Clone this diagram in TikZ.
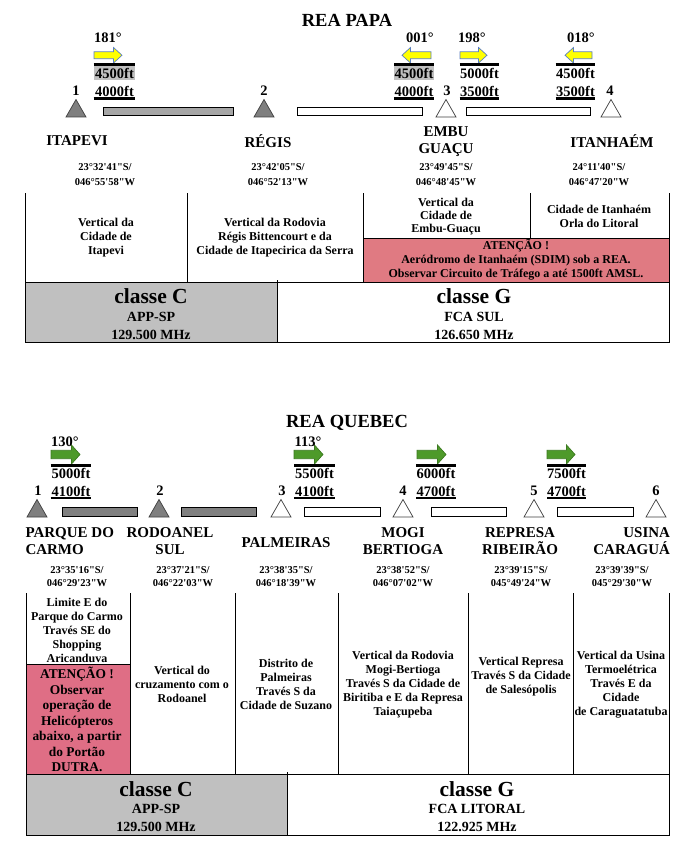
\documentclass[tikz,border=0pt]{standalone}
\usepackage{fontspec}
\setmainfont{Liberation Serif}
\newcommand\mysq{\textquotesingle}
\newcommand\mydq{\textquotedbl}
\definecolor{yelfill}{HTML}{FFFF00}
\definecolor{yelline}{HTML}{5B7FBF}
\definecolor{grnfill}{HTML}{4E9A2A}
\definecolor{grnline}{HTML}{3B7A1F}
\definecolor{tridark}{HTML}{7F7F7F}
\definecolor{triline}{HTML}{404040}
\definecolor{barlight}{HTML}{A6A6A6}
\definecolor{bardark}{HTML}{808080}
\definecolor{clsgray}{HTML}{C0C0C0}
\definecolor{redpapa}{HTML}{E07A82}
\definecolor{redqueb}{HTML}{DF6E85}
% right arrow: style, x0, x1, ytop, ybot
\newcommand\myRArrow[5]{\filldraw[#1] (#2,{#4+0.28*(#5-#4)}) -- ({#3-8.5},{#4+0.28*(#5-#4)}) -- ({#3-8.5},#4) -- (#3,{(#4+#5)/2}) -- ({#3-8.5},#5) -- ({#3-8.5},{#5-0.28*(#5-#4)}) -- (#2,{#5-0.28*(#5-#4)}) -- cycle;}
% left arrow: style, x0 (tip), x1, ytop, ybot
\newcommand\myLArrow[5]{\filldraw[#1] (#3,{#4+0.28*(#5-#4)}) -- ({#2+8.5},{#4+0.28*(#5-#4)}) -- ({#2+8.5},#4) -- (#2,{(#4+#5)/2}) -- ({#2+8.5},#5) -- ({#2+8.5},{#5-0.28*(#5-#4)}) -- (#3,{#5-0.28*(#5-#4)}) -- cycle;}
% triangle: style, xcenter, ytop
\newcommand\myTri[3]{\filldraw[#1] ({#2-10},{#3+17.5}) -- ({#2+10},{#3+17.5}) -- (#2,#3) -- cycle;}
\begin{document}
\begin{tikzpicture}[x=1pt,y=-1pt,
  every node/.style={inner sep=0pt, outer sep=0pt, text=black},
  titletxt/.style={font=\fontsize{18.5}{20}\selectfont\bfseries},
  degtxt/.style={font=\fontsize{14.5}{16}\selectfont\bfseries},
  fttxt/.style={font=\fontsize{14.5}{16}\selectfont\bfseries},
  numtxt/.style={font=\fontsize{14.5}{16}\selectfont\bfseries},
  nametxt/.style={font=\fontsize{15}{17}\selectfont\bfseries, align=center},
  coordtxt/.style={font=\fontsize{10.5}{15}\selectfont\bfseries, align=center},
  celltxt/.style={font=\fontsize{12}{14}\selectfont\bfseries, align=center},
  redtxt/.style={font=\fontsize{13.4}{15.5}\selectfont\bfseries, align=center},
  clsbig/.style={font=\fontsize{21.5}{24}\selectfont\bfseries},
  clssmall/.style={font=\fontsize{14}{16}\selectfont\bfseries},
  ftline/.style={line width=2.2pt},
  tbline/.style={line width=1pt},
  yelarrow/.style={fill=yelfill, draw=yelline, line width=0.7pt},
  grnarrow/.style={fill=grnfill, draw=grnline, line width=0.7pt},
  darktri/.style={fill=tridark, draw=triline, line width=0.7pt},
  whitetri/.style={fill=white, draw=triline, line width=0.7pt},
  lightbar/.style={fill=barlight, draw=black, line width=0.8pt},
  darkbar/.style={fill=bardark, draw=black, line width=0.8pt},
  whitebar/.style={fill=white, draw=black, line width=0.8pt}]
\path[use as bounding box] (0,0) rectangle (682,853);
\fill[white] (0,0) rectangle (682,853);

%================ REA PAPA =================
\node[titletxt] (t1) at (347,20) {REA PAPA};

% highlights
\fill[clsgray] (93.5,66.5) rectangle (135,80.5);
\fill[clsgray] (394,66.5) rectangle (434,80.5);

% arrows
\myRArrow{yelarrow}{94}{122}{47.5}{63}
\myLArrow{yelarrow}{402}{431}{47.5}{63}
\myRArrow{yelarrow}{460}{487}{47.5}{63}
\myLArrow{yelarrow}{565}{592}{47.5}{63}

% degree labels
\node[degtxt] (pd1) at (108,38) {181°};
\node[degtxt] (pd2) at (420,38) {001°};
\node[degtxt] (pd3) at (472,38) {198°};
\node[degtxt] (pd4) at (581,38) {018°};

% ft lines
\draw[ftline] (93.5,64.5) -- (135,64.5);
\draw[ftline] (93.5,98.5) -- (135,98.5);
\draw[ftline] (394,64.5) -- (434,64.5);
\draw[ftline] (394,98.5) -- (434,98.5);
\draw[ftline] (459.5,64.5) -- (499,64.5);
\draw[ftline] (459.5,98.5) -- (499,98.5);
\draw[ftline] (555.5,64.5) -- (595,64.5);
\draw[ftline] (555.5,98.5) -- (595,98.5);

% ft texts
\node[fttxt] (pu1) at (114.5,73.5) {4500ft};
\node[fttxt] (pl1) at (114.5,91) {4000ft};
\node[fttxt] (pu2) at (414,73.5) {4500ft};
\node[fttxt] (pl2) at (414,91) {4000ft};
\node[fttxt] (pu3) at (479.5,73.5) {5000ft};
\node[fttxt] (pl3) at (479.5,91) {3500ft};
\node[fttxt] (pu4) at (575.5,73.5) {4500ft};
\node[fttxt] (pl4) at (575.5,91) {3500ft};

% numbers
\node[numtxt] (pn1) at (76,91) {1};
\node[numtxt] (pn2) at (264,91) {2};
\node[numtxt] (pn3) at (447,91) {3};
\node[numtxt] (pn4) at (610,91) {4};

% triangles and bars
\myTri{darktri}{76}{99.5}
\myTri{darktri}{264}{99.5}
\myTri{whitetri}{446}{99.5}
\myTri{whitetri}{611}{99.5}
\draw[lightbar] (103,107) rectangle (233,115.5);
\draw[whitebar] (297,107) rectangle (422,115.5);
\draw[whitebar] (466,107) rectangle (590,115.5);

% names
\node[nametxt] (pm1) at (77,141) {ITAPEVI};
\node[nametxt] (pm2) at (268,141) {RÉGIS};
\node[nametxt] (pm3) at (446,141.5) {EMBU\\GUAÇU};
\node[nametxt] (pm4) at (612,141) {ITANHAÉM};

% coordinates
\node[coordtxt] (pc1) at (105,175) {23°32\mysq41\mydq S/\\046°55\mysq58\mydq W};
\node[coordtxt] (pc2) at (278,175) {23°42\mysq05\mydq S/\\046°52\mysq13\mydq W};
\node[coordtxt] (pc3) at (446,175) {23°49\mysq45\mydq S/\\046°48\mysq45\mydq W};
\node[coordtxt] (pc4) at (599,175) {24°11\mysq40\mydq S/\\046°47\mysq20\mydq W};

% table
\fill[redpapa] (363,238) rectangle (669,282);
\draw[tbline] (25,193) -- (25,282);
\draw[tbline] (187,193) -- (187,282);
\draw[tbline] (363,193) -- (363,282);
\draw[tbline] (530,193) -- (530,238);
\draw[tbline] (669,193) -- (669,282);
\draw[tbline] (363,238) -- (669,238);

\node[celltxt] (pt1) at (106,238) {Vertical da\\Cidade de\\Itapevi};
\node[celltxt] (pt2) at (275,238) {Vertical da Rodovia\\Régis Bittencourt e da\\Cidade de Itapecirica da Serra};
\node[celltxt, font=\fontsize{12}{13}\selectfont\bfseries] (pt3) at (446,216.5) {Vertical da\\Cidade de\\Embu-Guaçu};
\node[celltxt] (pt4) at (599,216.5) {Cidade de Itanhaém\\Orla do Litoral};
\node[celltxt] (pr1) at (516,260) {ATENÇÃO !\\Aeródromo de Itanhaém (SDIM) sob a REA.\\Observar Circuito de Tráfego a até 1500ft AMSL.};

% classes
\fill[clsgray] (25,282) rectangle (277,342);
\draw[tbline] (25,282) rectangle (669,342);
\draw[tbline] (277,280) -- (277,342);
\node[clsbig] (pk1) at (151,296) {classe C};
\node[clssmall] (pk2) at (151,317) {APP-SP};
\node[clssmall] (pk3) at (151,335) {129.500 MHz};
\node[clsbig] (pk4) at (474,296) {classe G};
\node[clssmall] (pk5) at (474,317) {FCA SUL};
\node[clssmall] (pk6) at (474,335) {126.650 MHz};

%================ REA QUEBEC =================
\node[titletxt] (t2) at (347,423) {REA QUEBEC};

\myRArrow{grnarrow}{51}{80}{445}{464}
\myRArrow{grnarrow}{294}{323}{445}{464}
\myRArrow{grnarrow}{417}{446}{445}{464}
\myRArrow{grnarrow}{547}{575}{445}{464}

\node[degtxt] (qd1) at (65,442) {130°};
\node[degtxt] (qd2) at (308,442) {113°};

\draw[ftline] (50.5,465.5) -- (91,465.5);
\draw[ftline] (50.5,498) -- (91,498);
\draw[ftline] (294,465.5) -- (335,465.5);
\draw[ftline] (294,498) -- (335,498);
\draw[ftline] (416,465.5) -- (456,465.5);
\draw[ftline] (416,498) -- (456,498);
\draw[ftline] (547,465.5) -- (586,465.5);
\draw[ftline] (547,498) -- (586,498);

\node[fttxt] (qu1) at (71,473.5) {5000ft};
\node[fttxt] (ql1) at (71,491) {4100ft};
\node[fttxt] (qu2) at (314.5,473.5) {5500ft};
\node[fttxt] (ql2) at (314.5,491) {4100ft};
\node[fttxt] (qu3) at (436,473.5) {6000ft};
\node[fttxt] (ql3) at (436,491) {4700ft};
\node[fttxt] (qu4) at (566.5,473.5) {7500ft};
\node[fttxt] (ql4) at (566.5,491) {4700ft};

\node[numtxt] (qn1) at (38,491) {1};
\node[numtxt] (qn2) at (160,491) {2};
\node[numtxt] (qn3) at (282,491) {3};
\node[numtxt] (qn4) at (403,491) {4};
\node[numtxt] (qn5) at (534,491) {5};
\node[numtxt] (qn6) at (656,491) {6};

\myTri{darktri}{37}{499.5}
\myTri{darktri}{159}{499.5}
\myTri{whitetri}{281}{499.5}
\myTri{whitetri}{403}{499.5}
\myTri{whitetri}{534}{499.5}
\myTri{whitetri}{656}{499.5}
\draw[darkbar] (62,507) rectangle (137,516);
\draw[darkbar] (181,507) rectangle (256,516);
\draw[whitebar] (304,507) rectangle (380,516);
\draw[whitebar] (431,507) rectangle (506,516);
\draw[whitebar] (557,507) rectangle (633,516);

\node[nametxt, align=left, anchor=west] (qm1) at (25.5,541.5) {PARQUE DO\\CARMO};
\node[nametxt] (qm2) at (170,541.5) {RODOANEL\\SUL};
\node[nametxt] (qm3) at (286,543) {PALMEIRAS};
\node[nametxt] (qm4) at (403,541.5) {MOGI\\BERTIOGA};
\node[nametxt] (qm5) at (520,541.5) {REPRESA\\RIBEIRÃO};
\node[nametxt, align=right, anchor=east] (qm6) at (670,541.5) {USINA\\CARAGUÁ};

\node[coordtxt, font=\fontsize{10.5}{13}\selectfont\bfseries] (qc1) at (77,576.5) {23°35\mysq16\mydq S/\\046°29\mysq23\mydq W};
\node[coordtxt, font=\fontsize{10.5}{13}\selectfont\bfseries] (qc2) at (183,576.5) {23°37\mysq21\mydq S/\\046°22\mysq03\mydq W};
\node[coordtxt, font=\fontsize{10.5}{13}\selectfont\bfseries] (qc3) at (286,576.5) {23°38\mysq35\mydq S/\\046°18\mysq39\mydq W};
\node[coordtxt, font=\fontsize{10.5}{13}\selectfont\bfseries] (qc4) at (403,576.5) {23°38\mysq52\mydq S/\\046°07\mysq02\mydq W};
\node[coordtxt, font=\fontsize{10.5}{13}\selectfont\bfseries] (qc5) at (521,576.5) {23°39\mysq15\mydq S/\\045°49\mysq24\mydq W};
\node[coordtxt, font=\fontsize{10.5}{13}\selectfont\bfseries] (qc6) at (622,576.5) {23°39\mysq39\mydq S/\\045°29\mysq30\mydq W};

\fill[redqueb] (26,664) rectangle (130,774);
\draw[tbline] (26,593) -- (26,774);
\draw[tbline] (130,593) -- (130,774);
\draw[tbline] (235,593) -- (235,774);
\draw[tbline] (338,593) -- (338,774);
\draw[tbline] (468,593) -- (468,774);
\draw[tbline] (573,593) -- (573,774);
\draw[tbline] (669,593) -- (669,774);
\draw[tbline] (26,664) -- (130,664);

\node[celltxt, font=\fontsize{12}{13.8}\selectfont\bfseries] (qt1) at (77,630.5) {Limite E do\\Parque do Carmo\\Través SE do\\Shopping\\Aricanduva};
\node[redtxt] (qr1) at (77,719.5) {ATENÇÃO !\\Observar\\operação de\\Helicópteros\\abaixo, a partir\\do Portão\\DUTRA.};
\node[celltxt] (qt2) at (182,684) {Vertical do\\cruzamento com o\\Rodoanel};
\node[celltxt] (qt3) at (286,684.5) {Distrito de\\Palmeiras\\Través S da\\Cidade de Suzano};
\node[celltxt] (qt4) at (403,684.5) {Vertical da Rodovia\\Mogi-Bertioga\\Través S da Cidade de\\Biritiba e E da Represa\\Taiaçupeba};
\node[celltxt] (qt5) at (521,677) {Vertical Represa\\Través S da Cidade\\de Salesópolis};
\node[celltxt] (qt6) at (621,684.5) {Vertical da Usina\\Termoelétrica\\Través E da\\Cidade\\de Caraguatatuba};

\fill[clsgray] (26,774) rectangle (287,835);
\draw[tbline] (26,774) rectangle (669,835);
\draw[tbline] (287,772) -- (287,835);
\node[clsbig] (qk1) at (156,789) {classe C};
\node[clssmall] (qk2) at (156,809) {APP-SP};
\node[clssmall] (qk3) at (156,827) {129.500 MHz};
\node[clsbig] (qk4) at (477,789) {classe G};
\node[clssmall] (qk5) at (477,809) {FCA LITORAL};
\node[clssmall] (qk6) at (477,827) {122.925 MHz};
\end{tikzpicture}
\end{document}
